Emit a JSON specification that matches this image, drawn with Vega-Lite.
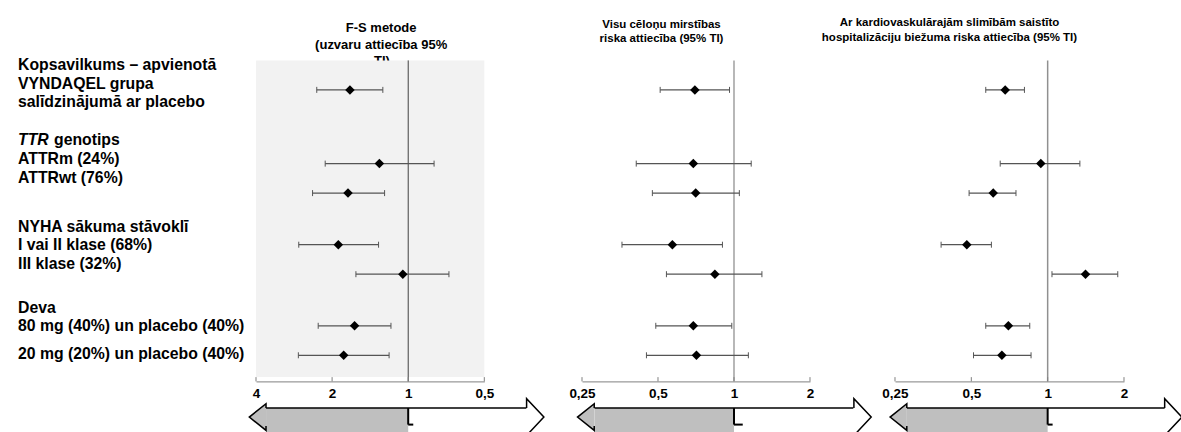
{
  "$schema": "https://vega.github.io/schema/vega-lite/v6.json",
  "padding": {"left": 18, "top": 16.4, "right": 0, "bottom": 0},
  "bounds": "flush",
  "spacing": 97,
  "config": {
    "view": {"stroke": null},
    "font": "Liberation Sans",
    "title": {"font": "Liberation Sans", "fontWeight": "bold", "color": "black", "anchor": "middle", "baseline": "bottom"},
    "axisX": {
      "title": null, "grid": false, "domainColor": "#808080", "ticks": false,
      "labelPadding": 5, "labelFontSize": 13.5, "labelFontWeight": "bold",
      "labelFont": "Liberation Sans", "labelColor": "black", "labelFlush": false, "labelOverlap": false
    }
  },
  "datasets": {
    "forest": [
      {"panel": "fs", "subgroup": "Kopsavilkums", "row": 1, "est": 1.70, "lo": 1.26, "hi": 2.30},
      {"panel": "fs", "subgroup": "ATTRm", "row": 3.5, "est": 1.30, "lo": 0.79, "hi": 2.13},
      {"panel": "fs", "subgroup": "ATTRwt", "row": 4.5, "est": 1.73, "lo": 1.24, "hi": 2.39},
      {"panel": "fs", "subgroup": "NYHA I/II", "row": 6.25, "est": 1.89, "lo": 1.31, "hi": 2.71},
      {"panel": "fs", "subgroup": "NYHA III", "row": 7.25, "est": 1.05, "lo": 0.69, "hi": 1.61},
      {"panel": "fs", "subgroup": "80 mg", "row": 9, "est": 1.63, "lo": 1.17, "hi": 2.27},
      {"panel": "fs", "subgroup": "20 mg", "row": 10, "est": 1.80, "lo": 1.19, "hi": 2.72},
      {"panel": "acm", "subgroup": "Kopsavilkums", "row": 1, "est": 0.70, "lo": 0.51, "hi": 0.96},
      {"panel": "acm", "subgroup": "ATTRm", "row": 3.5, "est": 0.69, "lo": 0.41, "hi": 1.17},
      {"panel": "acm", "subgroup": "ATTRwt", "row": 4.5, "est": 0.705, "lo": 0.475, "hi": 1.05},
      {"panel": "acm", "subgroup": "NYHA I/II", "row": 6.25, "est": 0.57, "lo": 0.36, "hi": 0.90},
      {"panel": "acm", "subgroup": "NYHA III", "row": 7.25, "est": 0.84, "lo": 0.54, "hi": 1.29},
      {"panel": "acm", "subgroup": "80 mg", "row": 9, "est": 0.69, "lo": 0.49, "hi": 0.98},
      {"panel": "acm", "subgroup": "20 mg", "row": 10, "est": 0.71, "lo": 0.45, "hi": 1.14},
      {"panel": "cvh", "subgroup": "Kopsavilkums", "row": 1, "est": 0.68, "lo": 0.57, "hi": 0.81},
      {"panel": "cvh", "subgroup": "ATTRm", "row": 3.5, "est": 0.94, "lo": 0.65, "hi": 1.34},
      {"panel": "cvh", "subgroup": "ATTRwt", "row": 4.5, "est": 0.61, "lo": 0.49, "hi": 0.75},
      {"panel": "cvh", "subgroup": "NYHA I/II", "row": 6.25, "est": 0.48, "lo": 0.38, "hi": 0.60},
      {"panel": "cvh", "subgroup": "NYHA III", "row": 7.25, "est": 1.41, "lo": 1.04, "hi": 1.89},
      {"panel": "cvh", "subgroup": "80 mg", "row": 9, "est": 0.70, "lo": 0.57, "hi": 0.85},
      {"panel": "cvh", "subgroup": "20 mg", "row": 10, "est": 0.66, "lo": 0.51, "hi": 0.86}
    ],
    "labels": [
      {"text": "Kopsavilkums – apvienotā", "line": 0.17},
      {"text": "VYNDAQEL grupa", "line": 0.79},
      {"text": "salīdzinājumā ar placebo", "line": 1.41},
      {"text": "TTR", "line": 2.71},
      {"text": "genotips", "line": 2.71},
      {"text": "ATTRm (24%)", "line": 3.33},
      {"text": "ATTRwt (76%)", "line": 3.99},
      {"text": "NYHA sākuma stāvoklī", "line": 5.65},
      {"text": "I vai II klase (68%)", "line": 6.27},
      {"text": "III klase (32%)", "line": 6.89},
      {"text": "Deva", "line": 8.39},
      {"text": "80 mg (40%) un placebo (40%)", "line": 9.02},
      {"text": "20 mg (20%) un placebo (40%)", "line": 9.95}
    ],
    "ticksFS": [{"t": 0.5}, {"t": 1}, {"t": 2}, {"t": 4}],
    "ticksHR": [{"t": 0.25}, {"t": 0.5}, {"t": 1}, {"t": 2}]
  },
  "hconcat": [
    {
      "width": 140.4, "height": 321,
      "data": {"name": "labels"},
      "layer": [
        {
          "transform": [{"filter": "datum.text !== 'TTR' && datum.text !== 'genotips'"}],
          "mark": {"type": "text", "align": "left", "baseline": "middle", "fontSize": 15.8, "fontWeight": "bold", "color": "black"},
          "encoding": {
            "x": {"value": 0},
            "y": {"field": "line", "type": "quantitative", "scale": {"domain": [0, 10.885], "reverse": true, "nice": false, "zero": false}, "axis": null},
            "text": {"field": "text"}
          }
        },
        {
          "transform": [{"filter": "datum.text === 'TTR'"}],
          "mark": {"type": "text", "align": "left", "baseline": "middle", "fontSize": 15.8, "fontWeight": "bold", "fontStyle": "italic", "color": "black"},
          "encoding": {
            "x": {"value": 0},
            "y": {"field": "line", "type": "quantitative", "axis": null},
            "text": {"field": "text"}
          }
        },
        {
          "transform": [{"filter": "datum.text === 'genotips'"}],
          "mark": {"type": "text", "align": "left", "baseline": "middle", "fontSize": 15.8, "fontWeight": "bold", "dx": 36, "color": "black"},
          "encoding": {
            "x": {"value": 0},
            "y": {"field": "line", "type": "quantitative", "axis": null},
            "text": {"field": "text"}
          }
        }
      ]
    },
    {
      "width": 228.3, "height": 321,
      "title": {"text": ["F-S metode", "(uzvaru attiecība 95%"], "fontSize": 13, "lineHeight": 17.5, "offset": 3, "dx": 11},
      "data": {"name": "forest"},
      "layer": [
        {
          "data": {"values": [{}]},
          "mark": {"type": "text", "text": "TI)", "fontSize": 13, "fontWeight": "bold", "baseline": "top", "align": "center", "color": "black"},
          "encoding": {"x": {"datum": 1.27, "title": null}, "y": {"datum": -0.17, "axis": null}}
        },
        {
          "data": {"values": [{}]},
          "mark": {"type": "rect", "fill": "#f2f2f2"},
          "encoding": {
            "x": {"datum": 4, "title": null}, "x2": {"datum": 0.5},
            "y": {"datum": 0, "axis": null}, "y2": {"datum": 10.74}
          }
        },
        {
          "data": {"values": [{}]},
          "mark": {"type": "rule", "color": "#404040", "strokeWidth": 1},
          "encoding": {"x": {"datum": 1, "title": null}}
        },
        {
          "data": {"name": "ticksFS"},
          "mark": {"type": "rule", "color": "#808080", "strokeWidth": 1},
          "encoding": {"x": {"field": "t", "type": "quantitative", "title": null}, "y": {"datum": 10.74, "axis": null}, "y2": {"datum": 10.885}}
        },
        {
          "transform": [{"filter": "datum.panel === 'fs'"}],
          "mark": {"type": "rule", "color": "#555555", "strokeWidth": 1.2},
          "encoding": {
            "x": {"field": "lo", "type": "quantitative", "title": null, "scale": {"type": "log", "domain": [0.5, 4], "reverse": true, "nice": false}, "axis": {"values": [0.5, 1, 2, 4], "title": null, "labelExpr": "replace(format(datum.value, '~g'), '.', ',')"}},
            "x2": {"field": "hi"},
            "y": {"field": "row", "type": "quantitative", "scale": {"domain": [0, 10.885], "reverse": true, "nice": false, "zero": false}, "axis": null}
          }
        },
        {
          "transform": [{"filter": "datum.panel === 'fs'"}],
          "mark": {"type": "point", "shape": "M0,-1L0,1", "size": 36, "stroke": "#555555", "strokeWidth": 1, "opacity": 1},
          "encoding": {"x": {"field": "lo", "type": "quantitative", "title": null}, "y": {"field": "row", "type": "quantitative", "axis": null}}
        },
        {
          "transform": [{"filter": "datum.panel === 'fs'"}],
          "mark": {"type": "point", "shape": "M0,-1L0,1", "size": 36, "stroke": "#555555", "strokeWidth": 1, "opacity": 1},
          "encoding": {"x": {"field": "hi", "type": "quantitative", "title": null}, "y": {"field": "row", "type": "quantitative", "axis": null}}
        },
        {
          "transform": [{"filter": "datum.panel === 'fs'"}],
          "mark": {"type": "point", "shape": "diamond", "size": 90, "filled": true, "color": "black", "opacity": 1},
          "encoding": {"x": {"field": "est", "type": "quantitative", "title": null}, "y": {"field": "row", "type": "quantitative", "axis": null}}
        },
        {
          "data": {"values": [{}]},
          "mark": {"type": "rect", "fill": "#bfbfbf"},
          "encoding": {"x": {"datum": 3.65, "title": null}, "x2": {"datum": 1}, "y": {"datum": 11.79, "axis": null}, "y2": {"datum": 13.2}}
        },
        {
          "data": {"values": [{}]},
          "mark": {"type": "rule", "color": "black", "strokeWidth": 1.5},
          "encoding": {"x": {"datum": 3.65, "title": null}, "x2": {"datum": 0.34}, "y": {"datum": 11.79, "axis": null}}
        },
        {
          "data": {"values": [{}]},
          "mark": {"type": "rule", "color": "black", "strokeWidth": 2},
          "encoding": {"x": {"datum": 1, "title": null}, "y": {"datum": 11.79, "axis": null}, "y2": {"datum": 12.35}}
        },
        {
          "data": {"values": [{}]},
          "mark": {"type": "rule", "color": "black", "strokeWidth": 2},
          "encoding": {"x": {"datum": 1, "title": null}, "x2": {"datum": 0.955}, "y": {"datum": 12.35, "axis": null}}
        },
        {
          "data": {"values": [{}]},
          "mark": {"type": "point", "shape": "M0.625,-0.674L0.625,-1L-0.625,0L0.625,1L0.625,0.674", "size": 713, "fill": "#bfbfbf", "stroke": "black", "strokeWidth": 1.5, "opacity": 1, "fillOpacity": 1},
          "encoding": {"x": {"datum": 3.94, "title": null}, "y": {"datum": 12.095, "axis": null}}
        },
        {
          "data": {"values": [{}]},
          "mark": {"type": "point", "shape": "M-0.47,-0.49L-0.47,-1L0.47,0L-0.47,1", "size": 1354, "fill": "white", "stroke": "black", "strokeWidth": 1.5, "opacity": 1, "fillOpacity": 1},
          "encoding": {"x": {"datum": 0.3144, "title": null}, "y": {"datum": 12.095, "axis": null}}
        }
      ]
    },
    {
      "spacing": 85,
      "bounds": "flush",
      "hconcat": [
        {
          "width": 228, "height": 321,
          "title": {"text": ["Visu cēloņu mirstības", "riska attiecība (95% TI)"], "fontSize": 11.5, "lineHeight": 14.6, "offset": 15, "dx": -34.5},
          "data": {"name": "forest"},
          "layer": [
            {
              "data": {"values": [{}]},
              "mark": {"type": "rule", "color": "#a0a0a0", "strokeWidth": 1.5},
              "encoding": {"x": {"datum": 1, "title": null}}
            },
            {
              "data": {"name": "ticksHR"},
              "mark": {"type": "rule", "color": "#808080", "strokeWidth": 1},
              "encoding": {"x": {"field": "t", "type": "quantitative", "title": null}, "y": {"datum": 10.74, "axis": null}, "y2": {"datum": 10.885}}
            },
            {
              "transform": [{"filter": "datum.panel === 'acm'"}],
              "mark": {"type": "rule", "color": "#555555", "strokeWidth": 1.2},
              "encoding": {
                "x": {"field": "lo", "type": "quantitative", "title": null, "scale": {"type": "log", "domain": [0.25, 2], "nice": false}, "axis": {"values": [0.25, 0.5, 1, 2], "title": null, "labelExpr": "replace(format(datum.value, '~g'), '.', ',')"}},
                "x2": {"field": "hi"},
                "y": {"field": "row", "type": "quantitative", "scale": {"domain": [0, 10.885], "reverse": true, "nice": false, "zero": false}, "axis": null}
              }
            },
            {
              "transform": [{"filter": "datum.panel === 'acm'"}],
              "mark": {"type": "point", "shape": "M0,-1L0,1", "size": 36, "stroke": "#555555", "strokeWidth": 1, "opacity": 1},
              "encoding": {"x": {"field": "lo", "type": "quantitative", "title": null}, "y": {"field": "row", "type": "quantitative", "axis": null}}
            },
            {
              "transform": [{"filter": "datum.panel === 'acm'"}],
              "mark": {"type": "point", "shape": "M0,-1L0,1", "size": 36, "stroke": "#555555", "strokeWidth": 1, "opacity": 1},
              "encoding": {"x": {"field": "hi", "type": "quantitative", "title": null}, "y": {"field": "row", "type": "quantitative", "axis": null}}
            },
            {
              "transform": [{"filter": "datum.panel === 'acm'"}],
              "mark": {"type": "point", "shape": "diamond", "size": 90, "filled": true, "color": "black", "opacity": 1},
              "encoding": {"x": {"field": "est", "type": "quantitative", "title": null}, "y": {"field": "row", "type": "quantitative", "axis": null}}
            },
            {
              "data": {"values": [{}]},
              "mark": {"type": "rect", "fill": "#bfbfbf"},
              "encoding": {"x": {"datum": 0.28, "title": null}, "x2": {"datum": 1}, "y": {"datum": 11.79, "axis": null}, "y2": {"datum": 13.2}}
            },
            {
              "data": {"values": [{}]},
              "mark": {"type": "rule", "color": "black", "strokeWidth": 1.5},
              "encoding": {"x": {"datum": 0.28, "title": null}, "x2": {"datum": 2.97}, "y": {"datum": 11.79, "axis": null}}
            },
            {
              "data": {"values": [{}]},
              "mark": {"type": "rule", "color": "black", "strokeWidth": 2},
              "encoding": {"x": {"datum": 1, "title": null}, "y": {"datum": 11.79, "axis": null}, "y2": {"datum": 12.35}}
            },
            {
              "data": {"values": [{}]},
              "mark": {"type": "rule", "color": "black", "strokeWidth": 2},
              "encoding": {"x": {"datum": 1, "title": null}, "x2": {"datum": 1.083}, "y": {"datum": 12.35, "axis": null}}
            },
            {
              "data": {"values": [{}]},
              "mark": {"type": "point", "shape": "M0.625,-0.674L0.625,-1L-0.625,0L0.625,1L0.625,0.674", "size": 713, "fill": "#bfbfbf", "stroke": "black", "strokeWidth": 1.5, "opacity": 1, "fillOpacity": 1},
              "encoding": {"x": {"datum": 0.259, "title": null}, "y": {"datum": 12.095, "axis": null}}
            },
            {
              "data": {"values": [{}]},
              "mark": {"type": "point", "shape": "M-0.47,-0.49L-0.47,-1L0.47,0L-0.47,1", "size": 1354, "fill": "white", "stroke": "black", "strokeWidth": 1.5, "opacity": 1, "fillOpacity": 1},
              "encoding": {"x": {"datum": 3.23, "title": null}, "y": {"datum": 12.095, "axis": null}}
            }
          ]
        },
        {
          "width": 229, "height": 321,
          "title": {"text": ["Ar kardiovaskulārajām slimībām saistīto", "hospitalizāciju biežuma riska attiecība (95% TI)"], "fontSize": 11.5, "lineHeight": 14.6, "offset": 16.5, "dx": -60},
          "data": {"name": "forest"},
          "layer": [
            {
              "data": {"values": [{}]},
              "mark": {"type": "rule", "color": "#909090", "strokeWidth": 1.5},
              "encoding": {"x": {"datum": 1, "title": null}}
            },
            {
              "data": {"name": "ticksHR"},
              "mark": {"type": "rule", "color": "#808080", "strokeWidth": 1},
              "encoding": {"x": {"field": "t", "type": "quantitative", "title": null}, "y": {"datum": 10.74, "axis": null}, "y2": {"datum": 10.885}}
            },
            {
              "transform": [{"filter": "datum.panel === 'cvh'"}],
              "mark": {"type": "rule", "color": "#555555", "strokeWidth": 1.2},
              "encoding": {
                "x": {"field": "lo", "type": "quantitative", "title": null, "scale": {"type": "log", "domain": [0.25, 2], "nice": false}, "axis": {"values": [0.25, 0.5, 1, 2], "title": null, "labelExpr": "replace(format(datum.value, '~g'), '.', ',')"}},
                "x2": {"field": "hi"},
                "y": {"field": "row", "type": "quantitative", "scale": {"domain": [0, 10.885], "reverse": true, "nice": false, "zero": false}, "axis": null}
              }
            },
            {
              "transform": [{"filter": "datum.panel === 'cvh'"}],
              "mark": {"type": "point", "shape": "M0,-1L0,1", "size": 36, "stroke": "#555555", "strokeWidth": 1, "opacity": 1},
              "encoding": {"x": {"field": "lo", "type": "quantitative", "title": null}, "y": {"field": "row", "type": "quantitative", "axis": null}}
            },
            {
              "transform": [{"filter": "datum.panel === 'cvh'"}],
              "mark": {"type": "point", "shape": "M0,-1L0,1", "size": 36, "stroke": "#555555", "strokeWidth": 1, "opacity": 1},
              "encoding": {"x": {"field": "hi", "type": "quantitative", "title": null}, "y": {"field": "row", "type": "quantitative", "axis": null}}
            },
            {
              "transform": [{"filter": "datum.panel === 'cvh'"}],
              "mark": {"type": "point", "shape": "diamond", "size": 90, "filled": true, "color": "black", "opacity": 1},
              "encoding": {"x": {"field": "est", "type": "quantitative", "title": null}, "y": {"field": "row", "type": "quantitative", "axis": null}}
            },
            {
              "data": {"values": [{}]},
              "mark": {"type": "rect", "fill": "#bfbfbf"},
              "encoding": {"x": {"datum": 0.278, "title": null}, "x2": {"datum": 1}, "y": {"datum": 11.79, "axis": null}, "y2": {"datum": 13.2}}
            },
            {
              "data": {"values": [{}]},
              "mark": {"type": "rule", "color": "black", "strokeWidth": 1.5},
              "encoding": {"x": {"datum": 0.278, "title": null}, "x2": {"datum": 2.9}, "y": {"datum": 11.79, "axis": null}}
            },
            {
              "data": {"values": [{}]},
              "mark": {"type": "rule", "color": "black", "strokeWidth": 2},
              "encoding": {"x": {"datum": 1, "title": null}, "y": {"datum": 11.79, "axis": null}, "y2": {"datum": 12.35}}
            },
            {
              "data": {"values": [{}]},
              "mark": {"type": "rule", "color": "black", "strokeWidth": 2},
              "encoding": {"x": {"datum": 1, "title": null}, "x2": {"datum": 1.046}, "y": {"datum": 12.35, "axis": null}}
            },
            {
              "data": {"values": [{}]},
              "mark": {"type": "point", "shape": "M0.625,-0.674L0.625,-1L-0.625,0L0.625,1L0.625,0.674", "size": 713, "fill": "#bfbfbf", "stroke": "black", "strokeWidth": 1.5, "opacity": 1, "fillOpacity": 1},
              "encoding": {"x": {"datum": 0.258, "title": null}, "y": {"datum": 12.095, "axis": null}}
            },
            {
              "data": {"values": [{}]},
              "mark": {"type": "point", "shape": "M-0.47,-0.49L-0.47,-1L0.47,0L-0.47,1", "size": 1354, "fill": "white", "stroke": "black", "strokeWidth": 1.5, "opacity": 1, "fillOpacity": 1},
              "encoding": {"x": {"datum": 3.13, "title": null}, "y": {"datum": 12.095, "axis": null}}
            }
          ]
        }
      ]
    }
  ]
}
